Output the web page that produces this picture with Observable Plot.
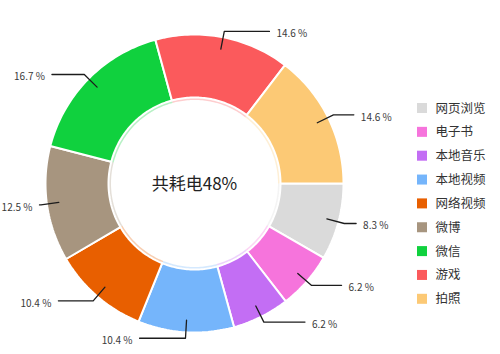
<!DOCTYPE html>
<html><head><meta charset="utf-8">
<script src="https://cdn.jsdelivr.net/npm/d3@7"></script>
<script src="https://cdn.jsdelivr.net/npm/@observablehq/plot@0.6"></script>
<style>
body{margin:0;background:#fff;}
#chart{width:500px;height:354px;}
</style>
</head><body><div id="chart"></div>
<script>
// ---- data ----
const categories = ["网页浏览","电子书","本地音乐","本地视频","网络视频","微博","微信","游戏","拍照"];
const shares = [8.3, 6.2, 6.2, 10.4, 10.4, 12.5, 16.7, 14.6, 14.6];
const colors = ["#dadada","#f674dc","#c36ef4","#75b5fb","#e85f00","#a7957f","#10d13e","#fb5a5c","#fcc975"];
const centerLabel = "共耗电48%";

// ---- layout ----
const W = 500, H = 354, CX = 194, CY = 183;
const R_OUT = 149, R_IN = 86, R_LINE0 = 137, R_ELBOW = 155, LEN2 = 46, GAP = 7, LABEL_W = 31;
const FONT = "'Noto Sans CJK SC','Noto Sans',sans-serif";

const pie = d3.pie().sort(null).value(d => d.value)
  .startAngle(Math.PI / 2).endAngle(Math.PI / 2 + 2 * Math.PI);
const data = categories.map((c, i) => ({name: c, value: shares[i]}));
const arcs = pie(data);

const pt = (r, a) => [r * Math.sin(a), r * Math.cos(a)];

function ring(a0, a1, r0, r1, name) {
  const n = Math.max(8, Math.ceil((a1 - a0) / 0.02));
  const pts = [];
  for (let k = 0; k <= n; k++) { const a = a0 + (a1 - a0) * k / n; const [x, y] = pt(r1, a); pts.push({name, x, y}); }
  for (let k = n; k >= 0; k--) { const a = a0 + (a1 - a0) * k / n; const [x, y] = pt(r0, a); pts.push({name, x, y}); }
  pts.push({...pts[0]});
  return pts;
}

const slices = arcs.flatMap(a => ring(a.startAngle, a.endAngle, R_IN, R_OUT, a.data.name));
const innerBand = arcs.flatMap(a => ring(a.startAngle, a.endAngle, R_IN - 2.5, R_IN, a.data.name));

// leader lines and labels
const leaders = [], labels = [];
for (const a of arcs) {
  const mid = (a.startAngle + a.endAngle) / 2;
  const right = Math.sin(mid) >= 0;
  const [x0, y0] = pt(R_LINE0, mid);
  const [x1, y1] = pt(R_ELBOW, mid);
  let len = LEN2 * Math.abs(Math.cos(mid));
  // keep the label inside the canvas
  if (!right) len = Math.max(1, Math.min(len, (x1 + CX) - GAP - LABEL_W - 1));
  else len = Math.max(1, Math.min(len, (W - CX - x1) - GAP - LABEL_W - 1));
  const x2 = x1 + (right ? len : -len);
  leaders.push({name: a.data.name, x: x0, y: y0}, {name: a.data.name, x: x1, y: y1}, {name: a.data.name, x: x2, y: y1});
  labels.push({x: x2, y: y1, right, text: a.data.value.toFixed(1) + " %"});
}

// legend rows
const legend = categories.map((c, i) => ({name: c, px: 417, py: 108 + i * 23.85}));

const chart = Plot.plot({
  width: W, height: H, margin: 0,
  style: {background: "#fff", fontFamily: FONT},
  x: {domain: [-CX, W - CX], axis: null},
  y: {domain: [CY - H, CY], axis: null},
  color: {domain: categories, range: colors},
  marks: [
    Plot.line(innerBand, {x: "x", y: "y", z: "name", fill: "name", fillOpacity: 0.3, stroke: "none"}),
    Plot.line(slices, {x: "x", y: "y", z: "name", fill: "name", stroke: "#fff", strokeWidth: 2, strokeLinejoin: "miter"}),
    Plot.line(leaders, {x: "x", y: "y", z: "name", stroke: "#1c1c1c", strokeWidth: 1.3}),
    Plot.text(labels.filter(d => d.right), {x: "x", y: "y", text: "text", textAnchor: "start", dx: GAP, dy: 2.5, fontSize: 10, fill: "#3a3a3a"}),
    Plot.text(labels.filter(d => !d.right), {x: "x", y: "y", text: "text", textAnchor: "end", dx: -GAP, dy: 2.5, fontSize: 10, fill: "#3a3a3a"}),
    Plot.text([centerLabel], {x: 0, y: 0, text: d => d, fontSize: 17, fill: "#222", dy: 1}),
    Plot.rect(legend, {x1: d => d.px - CX, x2: d => d.px + 10 - CX, y1: d => CY - d.py + 5, y2: d => CY - d.py - 5, fill: "name"}),
    Plot.text(legend, {x: d => d.px + 18 - CX, y: d => CY - d.py, text: "name", textAnchor: "start", fontSize: 12.5, fill: "#333"})
  ]
});
document.getElementById("chart").append(chart);
</script>
</body></html>
